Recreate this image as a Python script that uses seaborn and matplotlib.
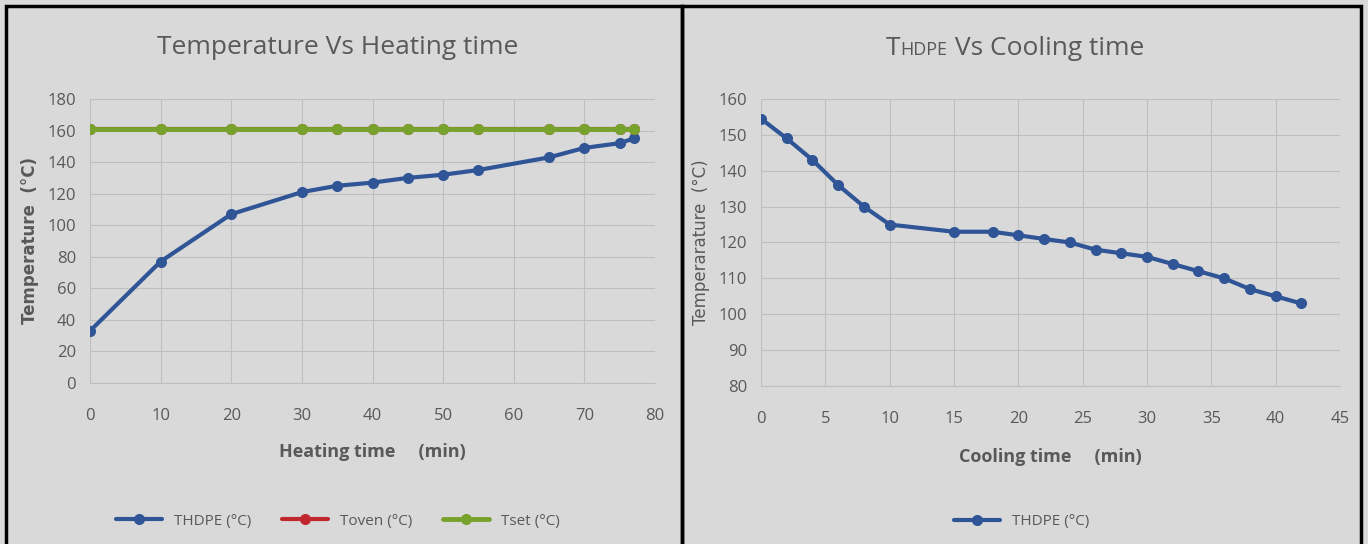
import pandas as pd
import matplotlib
import matplotlib.pyplot as plt
import matplotlib.patches as mpatches
from matplotlib import font_manager
import seaborn as sns

# heating data
heat_time = [0, 10, 20, 30, 35, 40, 45, 50, 55, 65, 70, 75, 77]
heat_thdpe = [33, 77, 107, 121, 125, 127, 130, 132, 135, 143, 149, 152, 155]
heat_toven = [161, 161, 161, 161, 161, 161, 161, 161, 161, 161, 161, 161, 161]
heat_tset = [161, 161, 161, 161, 161, 161, 161, 161, 161, 161, 161, 161, 161]

# cooling data
cool_time = [0, 2, 4, 6, 8, 10, 15, 18, 20, 22, 24, 26, 28, 30, 32, 34, 36, 38, 40, 42]
cool_thdpe = [154.5, 149, 143, 136, 130, 125, 123, 123, 122, 121, 120, 118, 117, 116,
              114, 112, 110, 107, 105, 103]

BG = "#d9d9d9"
TXT = "#595959"
BLUE = "#2f5597"
RED = "#c0282d"
GREEN = "#77a22c"
GRID = "#bfbfbf"

sns.set_style("white")
installed = {f.name for f in font_manager.fontManager.ttflist}
narrow = "Liberation Sans Narrow" if "Liberation Sans Narrow" in installed else "Open Sans"
plt.rcParams["font.family"] = [narrow, "DejaVu Sans"]

fig = plt.figure(figsize=(13.68, 5.44), dpi=100, facecolor=BG)
W, H = 1368, 544

def px(x0, y0, x1, y1):
    return [x0 / W, 1 - y1 / H, (x1 - x0) / W, (y1 - y0) / H]

# panel borders
for x0, x1 in [(6, 682), (682, 1361)]:
    fig.patches.append(mpatches.Rectangle((x0 / W, -0.01), (x1 - x0) / W, 1 - 6 / H + 0.01,
                                          transform=fig.transFigure, fill=False,
                                          edgecolor="black", linewidth=2.5))

ax1 = fig.add_axes(px(90, 99, 655, 383))
ax2 = fig.add_axes(px(761, 99, 1340, 386))

heat = pd.DataFrame({"time": heat_time, "THDPE (°C)": heat_thdpe,
                     "Toven (°C)": heat_toven, "Tset (°C)": heat_tset})
cool = pd.DataFrame({"time": cool_time, "THDPE (°C)": cool_thdpe})

for col, c, lw in [("THDPE (°C)", BLUE, 3), ("Toven (°C)", RED, 3), ("Tset (°C)", GREEN, 3.5)]:
    sns.lineplot(data=heat, x="time", y=col, ax=ax1, color=c, linewidth=lw, marker="o",
                 markersize=8, markeredgewidth=0, label=col)
sns.lineplot(data=cool, x="time", y="THDPE (°C)", ax=ax2, color=BLUE, linewidth=3,
             marker="o", markersize=8, markeredgewidth=0, label="THDPE (°C)")

for ax in (ax1, ax2):
    ax.set_facecolor(BG)
    ax.grid(True, color=GRID, linewidth=0.8)
    ax.set_axisbelow(True)
    for s in ["top", "right", "left"]:
        ax.spines[s].set_visible(False)
    ax.spines["bottom"].set_color(GRID)
    ax.tick_params(axis="both", length=0, labelsize=12, labelcolor=TXT)
    ax.tick_params(axis="x", pad=18)
    ax.tick_params(axis="y", pad=10)

ax1.set_xlim(0, 80)
ax1.set_ylim(0, 180)
ax1.set_xticks(range(0, 81, 10))
ax1.set_yticks(range(0, 181, 20))
ax2.set_xlim(0, 45)
ax2.set_ylim(80, 160)
ax2.set_xticks(range(0, 46, 5))
ax2.set_yticks(range(80, 161, 10))

ax1.set_xlabel("Heating time     (min)", fontsize=13, fontweight="bold", color=TXT, labelpad=14)
ax1.set_ylabel("Temperature  (°C)", fontsize=12, fontweight="bold", color=TXT,
               family=["DejaVu Sans"], labelpad=6)
ax2.set_xlabel("Cooling time     (min)", fontsize=13, fontweight="bold", color=TXT, labelpad=15)
ax2.set_ylabel("Temperarature  (°C)", fontsize=12, color=TXT, family=["DejaVu Sans"], labelpad=6)

ax1.legend(loc="center", bbox_to_anchor=(338 / W, 1 - 521 / H), bbox_transform=fig.transFigure,
           ncol=3, frameon=False, fontsize=11, labelcolor=TXT, handlelength=3, columnspacing=2)
ax2.legend(loc="center", bbox_to_anchor=(1022 / W, 1 - 522 / H), bbox_transform=fig.transFigure,
           ncol=1, frameon=False, fontsize=11, labelcolor=TXT, handlelength=3)

# titles
fig.text(338 / W, 1 - 47 / H, "Temperature Vs Heating time", ha="center", va="center",
         fontsize=19, color=TXT)

# small-caps style title for the right panel
fig.canvas.draw()
r = fig.canvas.get_renderer()
parts = [("T", 19), ("HDPE", 13), (" Vs Cooling time", 19)]
pieces = []
x = 0
for s, fs in parts:
    t = fig.text(0, 1 - 55 / H, s, ha="left", va="baseline", fontsize=fs, color=TXT)
    w = t.get_window_extent(r).width
    pieces.append((t, x))
    x += w
start = 1015 - x / 2
for t, off in pieces:
    t.set_x((start + off) / W)

fig.savefig("out.png", dpi=100, facecolor=BG)
